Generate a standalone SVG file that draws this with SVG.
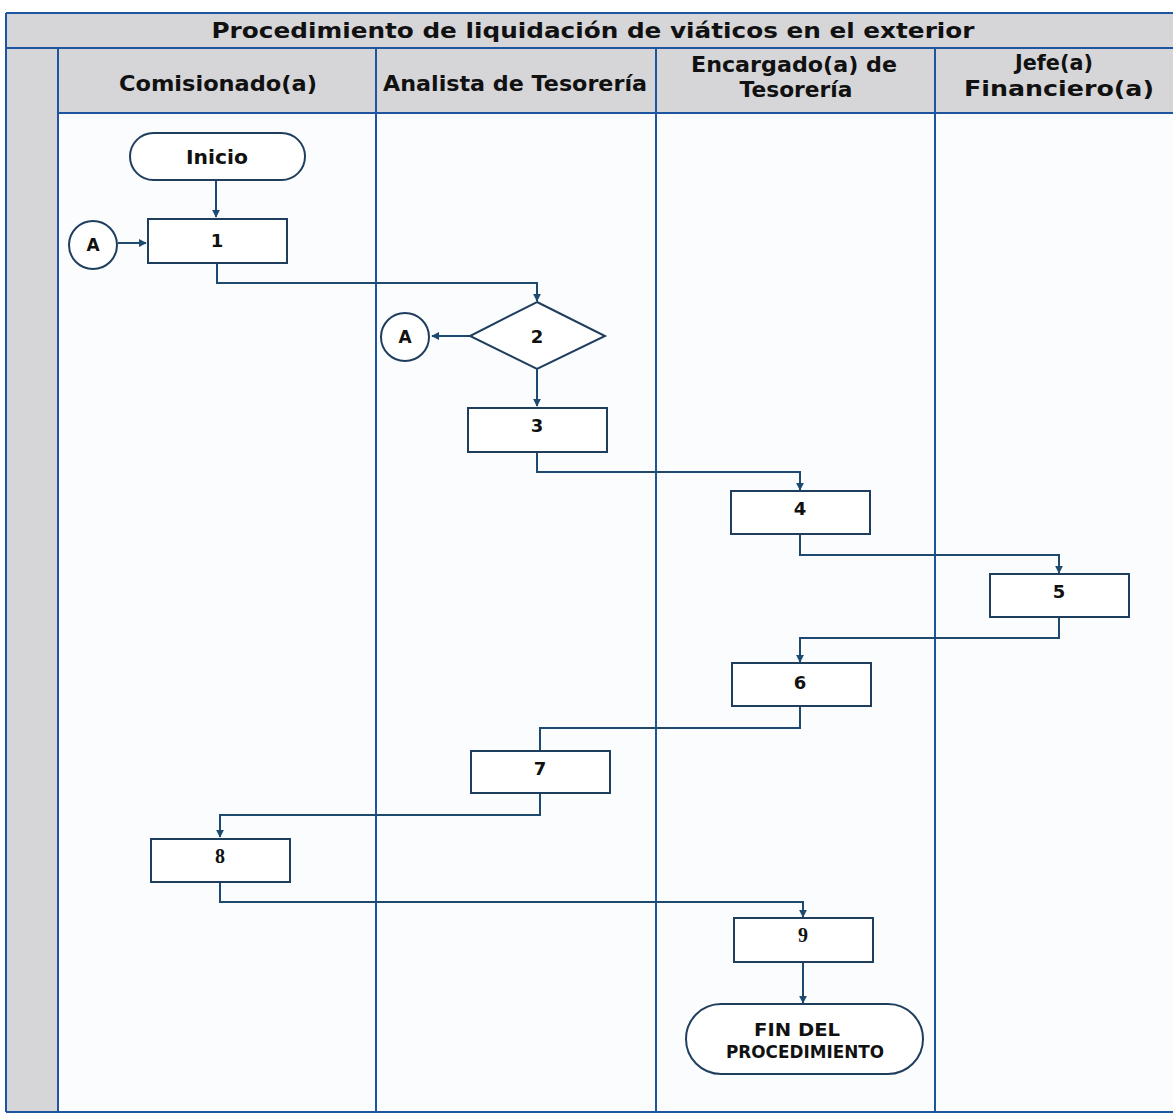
<svg xmlns="http://www.w3.org/2000/svg" width="1173" height="1115" viewBox="0 0 1173 1115">
<defs>
<marker id="ah" viewBox="0 0 10 10" refX="9" refY="5" markerWidth="8" markerHeight="8" markerUnits="userSpaceOnUse" orient="auto">
<path d="M0,0 L10,5 L0,10 z" fill="#1f4a70"/>
</marker>
<style>
.lane{stroke:#1d55a0;stroke-width:2;fill:none}
.hdr{fill:#d6d6d9}
.shape{fill:#ffffff;stroke:#1f3e5e;stroke-width:2}
.conn{fill:none;stroke:#1f4a70;stroke-width:2}
.t{font-family:"DejaVu Sans",Verdana,sans-serif;font-weight:bold;fill:#111;text-anchor:middle}
.ts{font-family:"Liberation Serif",serif;font-weight:bold;fill:#111;text-anchor:middle}
</style>
</defs>
<rect x="0" y="0" width="1173" height="1115" fill="#ffffff"/>
<g id="frame">
<rect x="6" y="13" width="1180" height="35" class="hdr"/>
<rect x="6" y="48" width="52" height="1064" class="hdr"/>
<rect x="58" y="48" width="1130" height="65" class="hdr"/>
<rect x="58" y="113" width="1130" height="999" fill="#fbfcfe"/>
<line x1="6" y1="13" x2="1173" y2="13" class="lane"/>
<line x1="6" y1="48" x2="1173" y2="48" class="lane"/>
<line x1="58" y1="113" x2="1173" y2="113" class="lane"/>
<line x1="6" y1="1112" x2="1173" y2="1112" class="lane"/>
<line x1="6" y1="13" x2="6" y2="1112" class="lane"/>
<line x1="58" y1="48" x2="58" y2="1112" class="lane"/>
<line x1="376" y1="48" x2="376" y2="1112" class="lane"/>
<line x1="656" y1="48" x2="656" y2="1112" class="lane"/>
<line x1="935" y1="48" x2="935" y2="1112" class="lane"/>
<text x="593" y="38" class="t" font-size="22" textLength="763" lengthAdjust="spacingAndGlyphs">Procedimiento de liquidación de viáticos en el exterior</text>
<text x="218" y="91" class="t" font-size="21" textLength="198" lengthAdjust="spacingAndGlyphs">Comisionado(a)</text>
<text x="515" y="91" class="t" font-size="21" textLength="264" lengthAdjust="spacingAndGlyphs">Analista de Tesorería</text>
<text x="794" y="72" class="t" font-size="21" textLength="206" lengthAdjust="spacingAndGlyphs">Encargado(a) de</text>
<text x="796" y="97" class="t" font-size="21" textLength="113" lengthAdjust="spacingAndGlyphs">Tesorería</text>
<text x="1054" y="70" class="t" font-size="21" textLength="78" lengthAdjust="spacingAndGlyphs">Jefe(a)</text>
<text x="1059" y="96" class="t" font-size="21" textLength="190" lengthAdjust="spacingAndGlyphs">Financiero(a)</text>
</g>
<g id="connectors">
<path d="M216,181 V217" class="conn" marker-end="url(#ah)"/>
<path d="M118,243 H146" class="conn" marker-end="url(#ah)"/>
<path d="M217,263 V283 H537 V301" class="conn" marker-end="url(#ah)"/>
<path d="M470,336 H432" class="conn" marker-end="url(#ah)"/>
<path d="M537,369 V406" class="conn" marker-end="url(#ah)"/>
<path d="M537,452 V472 H800 V490" class="conn" marker-end="url(#ah)"/>
<path d="M800,534 V555 H1059 V573" class="conn" marker-end="url(#ah)"/>
<path d="M1059,617 V638 H800 V662" class="conn" marker-end="url(#ah)"/>
<path d="M800,706 V728 H540 V750"  class="conn"/>
<path d="M540,793 V815 H220 V837" class="conn" marker-end="url(#ah)"/>
<path d="M220,882 V902 H803 V917" class="conn" marker-end="url(#ah)"/>
<path d="M803,962 V1003" class="conn" marker-end="url(#ah)"/>
</g>
<g id="inicio">
<rect x="130" y="133" width="175" height="47" rx="23.5" class="shape"/>
<text x="217" y="164" class="t" font-size="19" textLength="62" lengthAdjust="spacingAndGlyphs">Inicio</text>
</g>
<g id="conA1">
<circle cx="93" cy="245" r="24" class="shape"/>
<text x="93" y="251" class="t" font-size="17">A</text>
</g>
<g id="n1">
<rect x="148" y="219" width="139" height="44" class="shape"/>
<text x="217" y="247" class="t" font-size="18">1</text>
</g>
<g id="n2">
<polygon points="537,302 605,336 537,369 470,336" class="shape"/>
<text x="537" y="343" class="t" font-size="18">2</text>
</g>
<g id="conA2">
<circle cx="405" cy="337" r="24" class="shape"/>
<text x="405" y="343" class="t" font-size="17">A</text>
</g>
<g id="n3">
<rect x="468" y="408" width="139" height="44" class="shape"/>
<text x="537" y="432" class="t" font-size="18">3</text>
</g>
<g id="n4">
<rect x="731" y="491" width="139" height="43" class="shape"/>
<text x="800" y="515" class="t" font-size="18">4</text>
</g>
<g id="n5">
<rect x="990" y="574" width="139" height="43" class="shape"/>
<text x="1059" y="598" class="t" font-size="18">5</text>
</g>
<g id="n6">
<rect x="732" y="663" width="139" height="43" class="shape"/>
<text x="800" y="689" class="t" font-size="18">6</text>
</g>
<g id="n7">
<rect x="471" y="751" width="139" height="42" class="shape"/>
<text x="540" y="775" class="t" font-size="18">7</text>
</g>
<g id="n8">
<rect x="151" y="839" width="139" height="43" class="shape"/>
<text x="220" y="863" class="ts" font-size="20">8</text>
</g>
<g id="n9">
<rect x="734" y="918" width="139" height="44" class="shape"/>
<text x="803" y="942" class="ts" font-size="20">9</text>
</g>
<g id="fin">
<rect x="686" y="1004" width="237" height="70" rx="35" class="shape"/>
<text x="797" y="1036" class="t" font-size="17" textLength="86" lengthAdjust="spacingAndGlyphs">FIN DEL</text>
<text x="805" y="1058" class="t" font-size="17" textLength="158" lengthAdjust="spacingAndGlyphs">PROCEDIMIENTO</text>
</g>
</svg>
